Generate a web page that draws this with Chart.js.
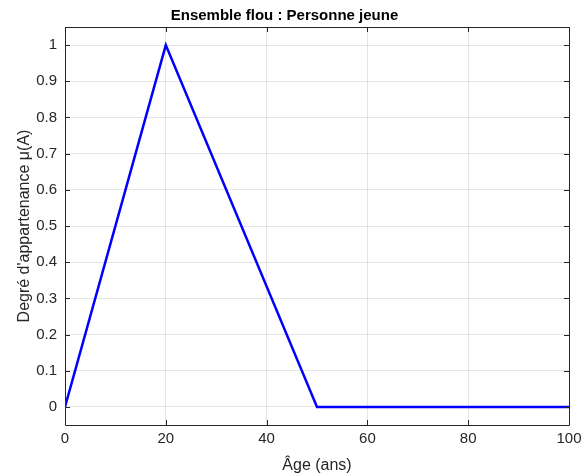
<!DOCTYPE html>
<html>
<head>
<meta charset="utf-8">
<script src="https://cdn.jsdelivr.net/npm/chart.js@4/dist/chart.umd.min.js"></script>
<style>
  html, body { margin: 0; padding: 0; background: #fff; }
  #wrap { width: 583px; height: 475px; }
</style>
</head>
<body>
<div id="wrap"><canvas id="fuzzyChart" width="583" height="475"></canvas></div>
<script>
// membership function of "jeune"
const ages = [0, 20, 50, 100];
const degrees = [0, 1, 0, 0];
const xTicks = [0, 20, 40, 60, 80, 100];
const yTicks = [0, 0.1, 0.2, 0.3, 0.4, 0.5, 0.6, 0.7, 0.8, 0.9, 1];

const FONT = '"Liberation Sans", Arial, Helvetica, sans-serif';
const AXIS = '#262626';

// box + inward ticks on all four sides, like matlab
const boxPlugin = {
    id: 'box',
    afterDatasetsDraw(chart) {
        const { ctx, chartArea: a, scales } = chart;
        const len = 5;
        ctx.save();
        ctx.strokeStyle = AXIS;
        ctx.lineWidth = 1;
        ctx.beginPath();
        ctx.rect(Math.round(a.left) + 0.5, Math.round(a.top) + 0.5,
                 Math.round(a.right - a.left), Math.round(a.bottom - a.top));
        xTicks.forEach(v => {
            const px = Math.round(scales.x.getPixelForValue(v)) + 0.5;
            ctx.moveTo(px, a.bottom); ctx.lineTo(px, a.bottom - len);
            ctx.moveTo(px, a.top); ctx.lineTo(px, a.top + len);
        });
        yTicks.forEach(v => {
            const py = Math.round(scales.y.getPixelForValue(v)) + 0.5;
            ctx.moveTo(a.left, py); ctx.lineTo(a.left + len, py);
            ctx.moveTo(a.right, py); ctx.lineTo(a.right - len, py);
        });
        ctx.stroke();
        ctx.restore();
    }
};

const ctx = document.getElementById('fuzzyChart').getContext('2d');
new Chart(ctx, {
    type: 'line',
    data: {
        datasets: [{
            data: ages.map((a, i) => ({ x: a, y: degrees[i] })),
            borderColor: '#0000ff',
            borderWidth: 2.5,
            pointRadius: 0,
            tension: 0,
            fill: false
        }]
    },
    options: {
        responsive: false,
        animation: false,
        layout: { padding: { left: 0, right: 14, top: 0, bottom: 0 } },
        plugins: {
            legend: { display: false },
            tooltip: { enabled: false },
            title: {
                display: true,
                text: 'Ensemble flou : Personne jeune',
                color: '#000',
                font: { family: FONT, size: 15, weight: 'bold', lineHeight: 1.2 },
                padding: { top: 7, bottom: 2 }
            }
        },
        scales: {
            x: {
                type: 'linear',
                min: 0,
                max: 100,
                afterBuildTicks: s => { s.ticks = xTicks.map(v => ({ value: v })); },
                afterFit: s => { s.height = 50; s.paddingLeft = 0; s.paddingRight = 0; },
                grid: { color: 'rgba(0,0,0,0.1)', drawTicks: false },
                border: { display: false },
                ticks: {
                    color: AXIS,
                    padding: 5,
                    font: { family: FONT, size: 15 },
                    maxRotation: 0
                },
                title: {
                    display: true,
                    text: 'Âge (ans)',
                    color: AXIS,
                    font: { family: FONT, size: 16 },
                    padding: { top: 2, bottom: 0 }
                }
            },
            y: {
                min: -0.05,
                max: 1.05,
                afterBuildTicks: s => { s.ticks = yTicks.map(v => ({ value: v })); },
                afterFit: s => { s.width = 65; s.paddingTop = 0; s.paddingBottom = 0; },
                grid: { color: 'rgba(0,0,0,0.1)', drawTicks: false },
                border: { display: false },
                ticks: {
                    color: AXIS,
                    padding: 8,
                    font: { family: FONT, size: 15 },
                    callback: v => String(Math.round(v * 10) / 10)
                },
                title: {
                    display: true,
                    text: 'Degré d\'appartenance μ(A)',
                    color: AXIS,
                    font: { family: FONT, size: 16 },
                    padding: { top: 15, bottom: 4 }
                }
            }
        }
    },
    plugins: [boxPlugin]
});
</script>
</body>
</html>
